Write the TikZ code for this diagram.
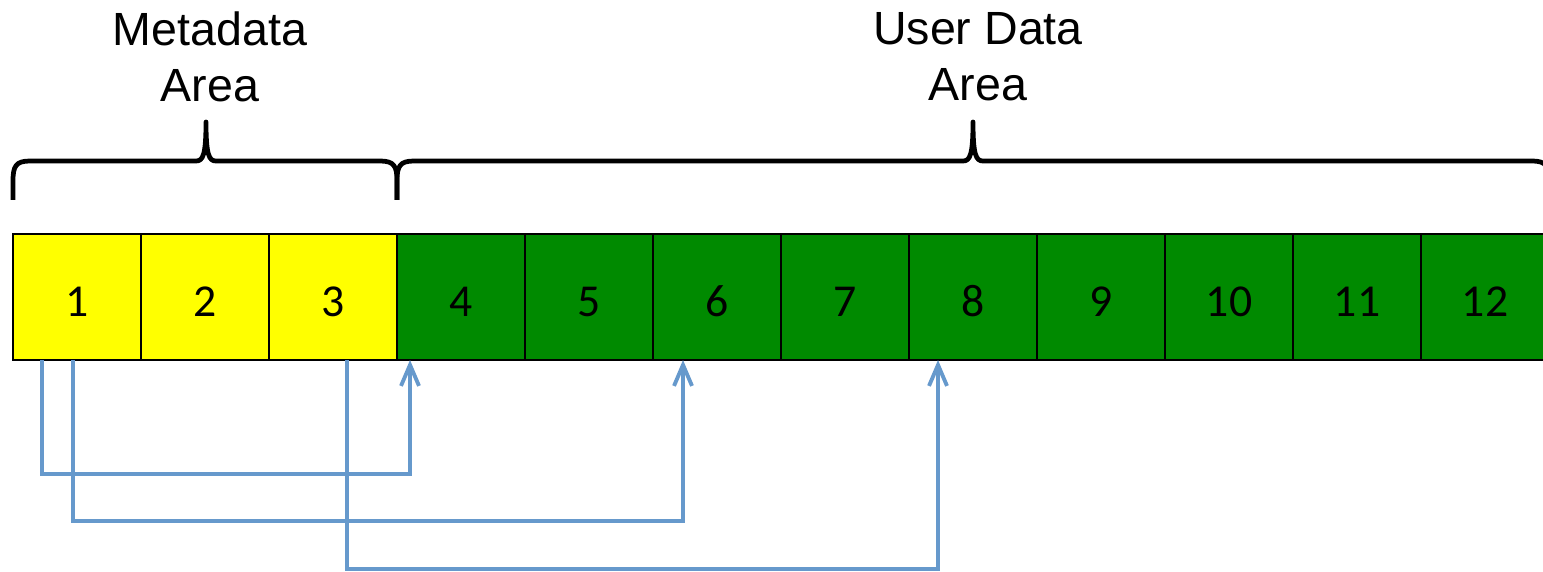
\documentclass[tikz,border=0pt]{standalone}
\usepackage{fontspec}
\setmainfont{Liberation Sans}
\newfontfamily\numfont{Carlito}
\usepackage{xcolor}
\usepackage{tikz}
\usetikzlibrary{positioning, arrows.meta}
\definecolor{metayellow}{RGB}{255,255,0}
\definecolor{usergreen}{RGB}{0,138,0}
\definecolor{linkblue}{RGB}{102,153,204}
% curly brace over an area: left end, tip, right end (x in cm)
\newcommand{\areabrace}[3]{%
  \draw[areabrace] (#1,-4.0) -- (#1,-3.62)
    .. controls (#1,-3.32) and (#1+0.06,-3.22) .. (#1+0.34,-3.22)
    -- (#2-0.2,-3.22) .. controls (#2-0.06,-3.22) and (#2,-3.1) .. (#2,-2.44)
    .. controls (#2,-3.1) and (#2+0.06,-3.22) .. (#2+0.2,-3.22)
    -- (#3-0.34,-3.22) .. controls (#3-0.06,-3.22) and (#3,-3.32) .. (#3,-3.62)
    -- (#3,-4.0);}

\begin{document}
\begin{tikzpicture}[
    cell/.style={draw, line width=0.8pt, outer sep=0pt, minimum width=2.56cm,
      minimum height=2.52cm, text height=0.78cm, text depth=0cm,
      font=\numfont\fontsize{26}{30}\selectfont},
    meta/.style={cell, fill=metayellow},
    user/.style={cell, fill=usergreen},
    areabrace/.style={line width=2.7pt, line join=round},
    title/.style={align=center, font=\fontsize{26.5}{32}\selectfont},
    link/.style={draw=linkblue, line width=2.2pt,
      -{Straight Barb[length=0.42cm, width=0.36cm]}}]
    \useasboundingbox (0,0) rectangle (30.86,-11.44);

    % the blocks
    \node[meta] (c1) at (1.54,-5.94) {1};
    \node[meta, right=0pt of c1] (c2) {2};
    \node[meta, right=0pt of c2] (c3) {3};
    \node[user, right=0pt of c3] (c4) {4};
    \node[user, right=0pt of c4] (c5) {5};
    \node[user, right=0pt of c5] (c6) {6};
    \node[user, right=0pt of c6] (c7) {7};
    \node[user, right=0pt of c7] (c8) {8};
    \node[user, right=0pt of c8] (c9) {9};
    \node[user, right=0pt of c9] (c10) {10};
    \node[user, right=0pt of c10] (c11) {11};
    \node[user, right=0pt of c11] (c12) {12};

    % areas
    \node[title] (metaarea) at (4.2,-1.14) {Metadata\\Area};
    \node[title] (userarea) at (19.56,-1.14) {User Data\\Area};
    \areabrace{0.26}{4.12}{7.94}
    \areabrace{7.94}{19.46}{30.98}

    % pointers
    \draw[link] ([xshift=0.58cm]c1.south west) -- ++(0,-2.28)
      -| ([xshift=0.26cm]c4.south west);
    \draw[link] ([xshift=1.2cm]c1.south west) -- ++(0,-3.22)
      -| ([xshift=0.6cm]c6.south west);
    \draw[link] ([xshift=1.56cm]c3.south west) -- ++(0,-4.18)
      -| ([xshift=0.58cm]c8.south west);
  \end{tikzpicture}
\end{document}
